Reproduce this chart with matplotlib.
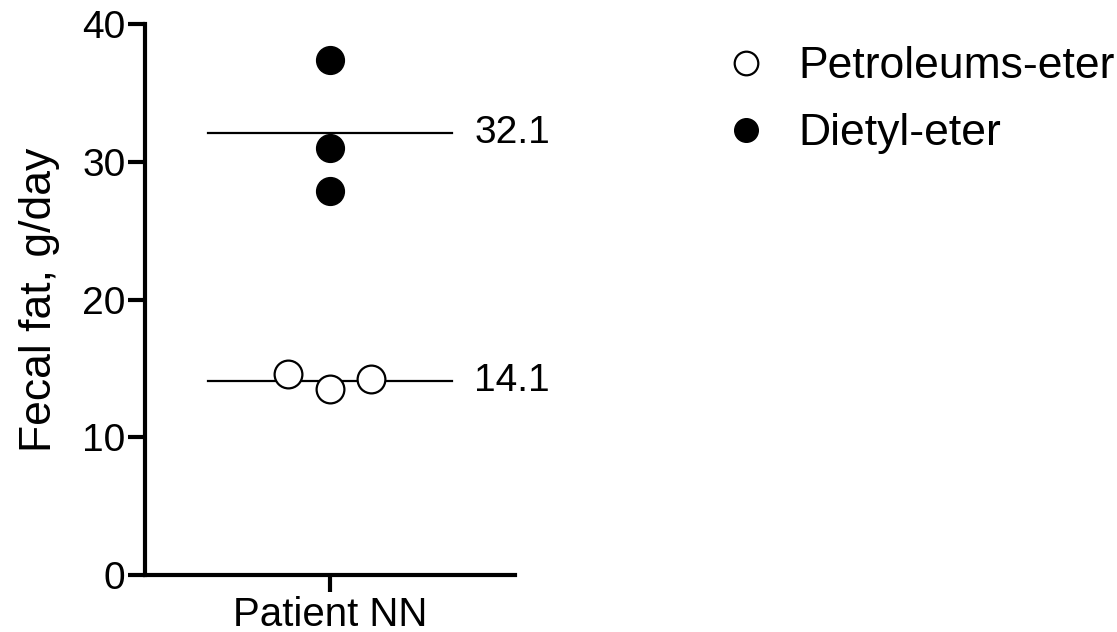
import numpy as np
import matplotlib.pyplot as plt

plt.rcParams['font.family'] = ['Liberation Sans', 'DejaVu Sans']

# data
category = 'Patient NN'
petroleum = [14.6, 13.5, 14.2]
diethyl = [37.4, 31.0, 27.9]
series_names = ['Petroleums-eter', 'Dietyl-eter']

petro_mean = np.mean(petroleum)
diethyl_mean = np.mean(diethyl)

fig = plt.figure(figsize=(11.17, 6.32), dpi=100)
ax = fig.add_axes([0.1298, 0.0902, 0.3313, 0.8718])

xc = 1.0
petro_dx = [-0.227, 0.0, 0.222]
diethyl_dx = [0.0, 0.0, 0.0]

ax.plot([xc + d for d in petro_dx], petroleum, 'o', ms=20, mfc='white',
        mec='black', mew=1.6, ls='none', label=series_names[0], zorder=3)
ax.plot([xc + d for d in diethyl_dx], diethyl, 'o', ms=20, mfc='black',
        mec='black', ls='none', label=series_names[1], zorder=3)

half = 0.66
for m in (petro_mean, diethyl_mean):
    ax.plot([xc - half, xc + half], [m, m], color='black', lw=1.6, zorder=2)
    ax.text(xc + half + 0.12, m, f'{m:.1f}', fontsize=28, va='center', ha='left')

ax.set_xlim(0, 2)
ax.set_ylim(0, 40)
ax.set_yticks([0, 10, 20, 30, 40])
ax.set_xticks([xc])
ax.set_xticklabels([category])
ax.set_ylabel('Fecal fat, g/day', fontsize=32, labelpad=16)

for s in ('top', 'right'):
    ax.spines[s].set_visible(False)
for s in ('left', 'bottom'):
    ax.spines[s].set_linewidth(3)
ax.tick_params(axis='y', width=3, length=12, labelsize=28, pad=2)
ax.tick_params(axis='x', width=3, length=12, labelsize=29, pad=3)

fig.legend(loc='upper left', bbox_to_anchor=(0.613, 0.99), frameon=False,
           fontsize=32, markerscale=0.85, handlelength=0.97, handletextpad=0.68,
           labelspacing=0.58)

fig.savefig('out.png', dpi=100)
